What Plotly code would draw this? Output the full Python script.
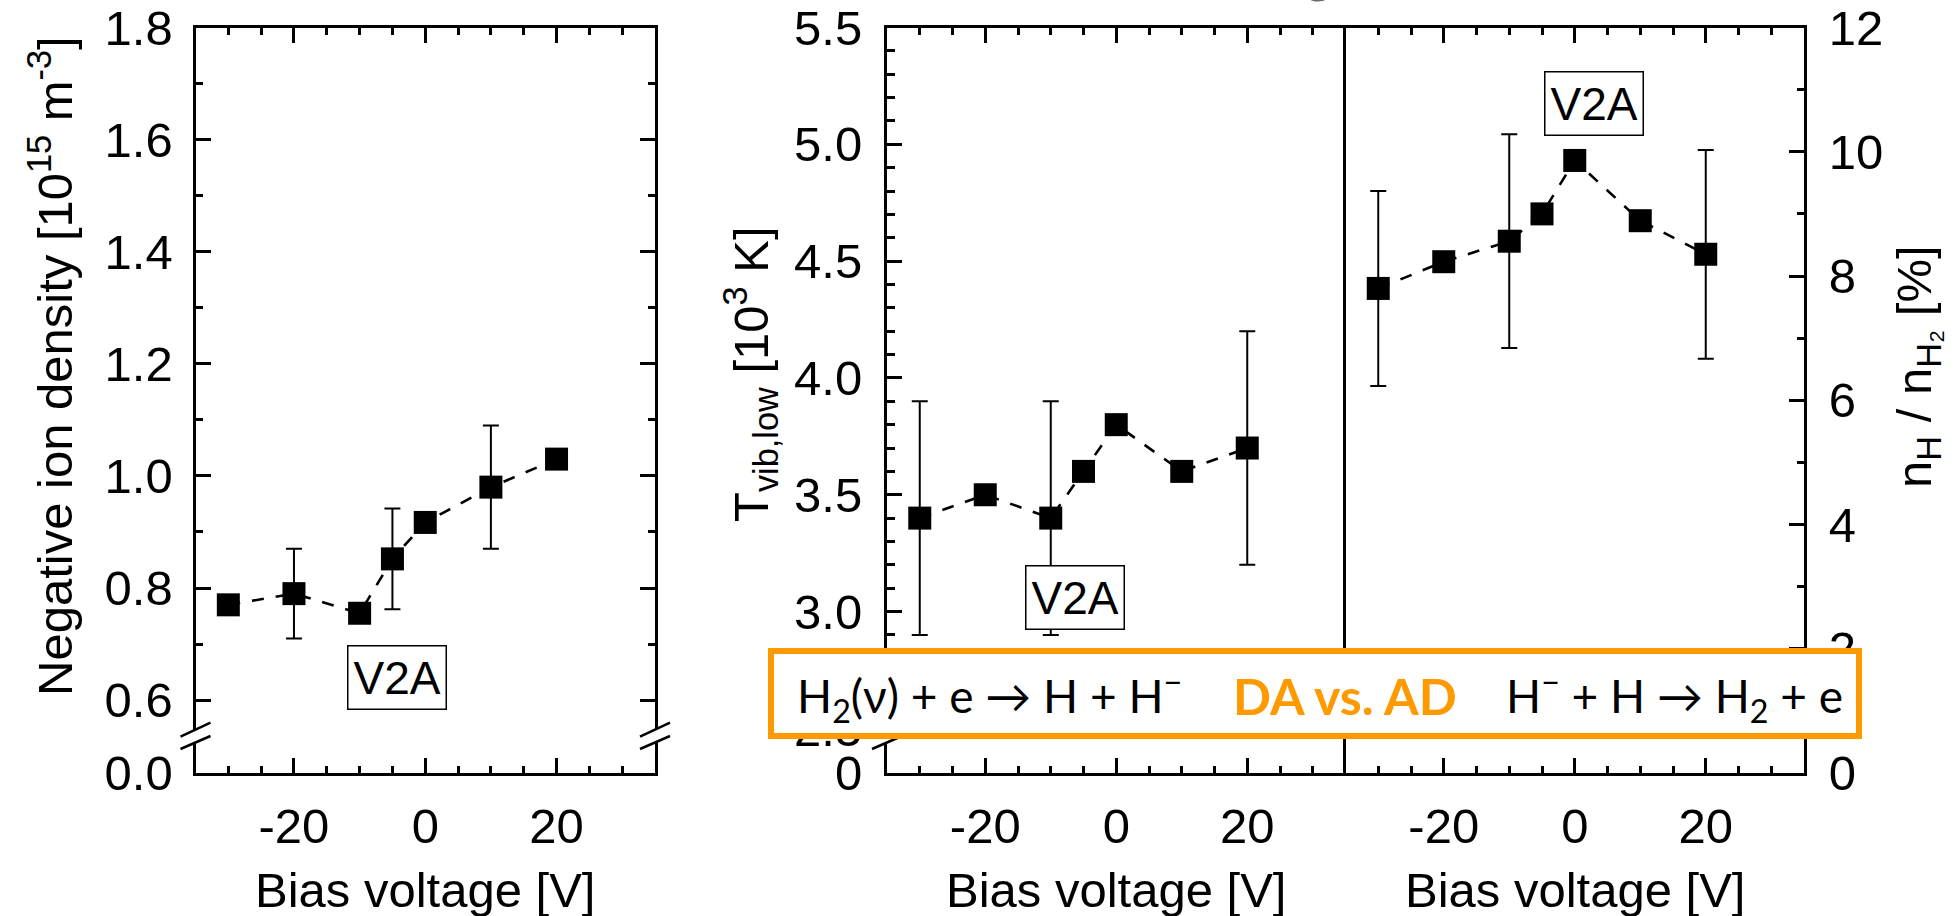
import plotly.graph_objects as go

# ---------------- data ----------------
bias = [-30, -20, -10, -5, 0, 10, 20]

neg_ion = [0.77, 0.79, 0.755, 0.852, 0.917, 0.98, 1.03]
neg_ion_err = [0, 0.08, 0, 0.09, 0, 0.11, 0]

t_vib = [3.4, 3.5, 3.4, 3.6, 3.8, 3.6, 3.7]
t_vib_err = [0.5, 0, 0.5, 0, 0, 0, 0.5]

nh_ratio = [7.8, 8.23, 8.56, 9.0, 9.86, 8.89, 8.35]
nh_ratio_err = [1.57, 0, 1.72, 0, 0, 0, 1.68]

x_ticks = [-20, 0, 20]
x_ticktext = ["-20", "0", "20"]
left_ticks = [0.6, 0.8, 1.0, 1.2, 1.4, 1.6, 1.8]
left_break_low = 0.470          # position where "0.0" is shown (broken axis)
mid_ticks = [2.5, 3.0, 3.5, 4.0, 4.5, 5.0, 5.5]
mid_break_low = 2.309           # position where "0" is shown (broken axis)
right_ticks = [0, 2, 4, 6, 8, 10, 12]

x_title = "Bias voltage [V]"
left_title = "Negative ion density [10<sup>15</sup> m<sup>-3</sup>]"
mid_title = "T<sub>vib,low</sub> [10<sup>3</sup> K]"
right_title = "n<sub>H</sub> / n<sub>H\u2082</sub> [%]"
label_v2a = "V2A"
box_left = "H<sub>2</sub>(\u03bd) + e \u2192 H + H<sup>\u2212</sup>"
box_mid = "<b>DA vs. AD</b>"
box_right = "H<sup>\u2212</sup> + H \u2192 H<sub>2</sub> + e"

# ---------------- layout geometry (pixels) ----------------
W, H = 1960, 916
TOP, BOT = 27.5, 773
PANELS = [(195.5, 655), (887, 1345.5), (1345.5, 1804)]
ORANGE = "#FF9900"
AXFONT = "Liberation Sans, Arial, sans-serif"
BOXFONT = "Lato, Open Sans, sans-serif"
FS = 49


def px(x):
    return x / W


def py(y):
    return 1 - y / H


def minor_between(major, step):
    vals = []
    lo, hi = min(major), max(major)
    v = lo
    while v < hi - 1e-9:
        v = round(v + step, 6)
        if all(abs(v - m) > 1e-6 for m in major) and v < hi:
            vals.append(v)
    return vals


fig = go.Figure()

series = [
    (neg_ion, neg_ion_err, "x", "y"),
    (t_vib, t_vib_err, "x2", "y2"),
    (nh_ratio, nh_ratio_err, "x3", "y3"),
]
for vals, errs, xa, ya in series:
    fig.add_trace(go.Scatter(
        x=bias, y=vals, xaxis=xa, yaxis=ya, mode="lines+markers",
        line=dict(color="black", width=2.6, dash="12px,12px"),
        marker=dict(symbol="square", size=23, color="black"),
        error_y=dict(type="data", array=errs, visible=True,
                     color="black", thickness=2, width=8),
        showlegend=False, cliponaxis=False,
    ))

tick_common = dict(
    ticks="inside", ticklen=15, tickwidth=2.5, tickcolor="black",
    showline=True, linewidth=3, linecolor="black",
    showgrid=False, zeroline=False, automargin=False,
    tickfont=dict(family=AXFONT, size=FS, color="black"),
)


def xaxis(i):
    x0, x1 = PANELS[i]
    return dict(
        domain=[px(x0), px(x1)], anchor=["y", "y2", "y3"][i],
        range=[-35, 35], tickmode="array", tickvals=x_ticks,
        ticktext=x_ticktext, mirror="allticks",
        minor=dict(tick0=0, dtick=5, ticks="inside", ticklen=7.5,
                   tickwidth=2.5, tickcolor="black"),
        ticklabelstandoff=8,
        **tick_common,
    )


ydom = [py(BOT), py(TOP)]
layout = dict(
    width=W, height=H, margin=dict(l=0, r=0, t=0, b=0, autoexpand=False),
    paper_bgcolor="white", plot_bgcolor="white", showlegend=False,
    xaxis=xaxis(0), xaxis2=xaxis(1), xaxis3=xaxis(2),
    yaxis=dict(
        domain=ydom, anchor="x", range=[left_break_low, 1.8],
        tickmode="array", tickvals=[left_break_low] + left_ticks,
        ticktext=["0.0"] + [f"{v:.1f}" for v in left_ticks],
        mirror="allticks", ticklabelstandoff=10,
        minor=dict(tickvals=minor_between(left_ticks, 0.1), ticks="inside",
                   ticklen=7.5, tickwidth=2.5, tickcolor="black"),
        **tick_common,
    ),
    yaxis2=dict(
        domain=ydom, anchor="x2", range=[mid_break_low, 5.5],
        tickmode="array", tickvals=[mid_break_low] + mid_ticks,
        ticktext=["0"] + [f"{v:.1f}" for v in mid_ticks],
        mirror=False, ticklabelstandoff=12,
        minor=dict(tickvals=minor_between(mid_ticks, 0.1), ticks="inside",
                   ticklen=7.5, tickwidth=2.5, tickcolor="black"),
        **tick_common,
    ),
    yaxis3=dict(
        domain=ydom, anchor="x3", side="right", range=[0, 12],
        tickmode="array", tickvals=right_ticks,
        ticktext=[str(v) for v in right_ticks],
        mirror=True, ticklabelstandoff=12,
        minor=dict(tick0=0, dtick=1, ticks="inside", ticklen=7.5,
                   tickwidth=2.5, tickcolor="black"),
        **tick_common,
    ),
)
fig.update_layout(**layout)

# ---------------- axis-break marks ----------------
shapes = []
for ax_x in [195.5, 655, 887]:
    hw = 15
    up = (736.7, 722.7)
    lo = (749.0, 736.0)
    path = (f"M {px(ax_x-hw)} {py(up[0])} L {px(ax_x+hw)} {py(up[1])} "
            f"L {px(ax_x+hw)} {py(lo[1])} L {px(ax_x-hw)} {py(lo[0])} Z")
    shapes.append(dict(type="path", xref="paper", yref="paper", path=path,
                       fillcolor="white", line=dict(width=0), layer="above"))
    for a, b in (up, lo):
        shapes.append(dict(type="line", xref="paper", yref="paper",
                           x0=px(ax_x - hw), y0=py(a), x1=px(ax_x + hw), y1=py(b),
                           line=dict(color="black", width=2.5), layer="above"))

# orange reaction box
shapes.append(dict(type="rect", xref="paper", yref="paper",
                   x0=px(771), x1=px(1859), y0=py(651), y1=py(736),
                   fillcolor="white", line=dict(color=ORANGE, width=6),
                   layer="above"))
fig.update_layout(shapes=shapes)

# ---------------- annotations ----------------
ann = []
# x titles
for x0, x1 in PANELS:
    ann.append(dict(text=x_title, xref="paper", yref="paper",
                    x=px((x0 + x1) / 2), y=py(890), xanchor="center",
                    yanchor="middle", showarrow=False,
                    font=dict(family=AXFONT, size=FS, color="black")))
# y titles
for txt, xc, yc in [(left_title, 51, 366), (mid_title, 750, 374),
                    (right_title, 1917, 367)]:
    ann.append(dict(text=txt, xref="paper", yref="paper", x=px(xc), y=py(yc),
                    xanchor="center", yanchor="middle", textangle=-90,
                    showarrow=False,
                    font=dict(family=AXFONT, size=FS, color="black")))
# V2A labels
for xa, ya, xv, yv in [("x", "y", -4.23, 0.640), ("x2", "y2", -6.3, 3.06),
                       ("x3", "y3", 2.94, 10.78)]:
    ann.append(dict(text=label_v2a, xref=xa, yref=ya, x=xv, y=yv,
                    xanchor="center", yanchor="middle", showarrow=False,
                    bgcolor="white", bordercolor="black", borderwidth=1.5,
                    borderpad=5,
                    font=dict(family=AXFONT, size=46, color="black")))
# reaction box texts
for txt, xl, col, sz in [(box_left, 795, "black", 46),
                         (box_mid, 1231, ORANGE, 50),
                         (box_right, 1504, "black", 46)]:
    ann.append(dict(text=txt, xref="paper", yref="paper", x=px(xl), y=py(696),
                    xanchor="left", yanchor="middle", showarrow=False,
                    font=dict(family=BOXFONT, size=sz, color=col)))
# cut-off title fragment at the top edge
ann.append(dict(text="g", xref="paper", yref="paper", x=px(1318), y=py(5),
                xanchor="center", yanchor="bottom", showarrow=False,
                font=dict(family=BOXFONT, size=52, color="#6a6a6a")))
fig.update_layout(annotations=ann)

fig.write_html("out.html")
